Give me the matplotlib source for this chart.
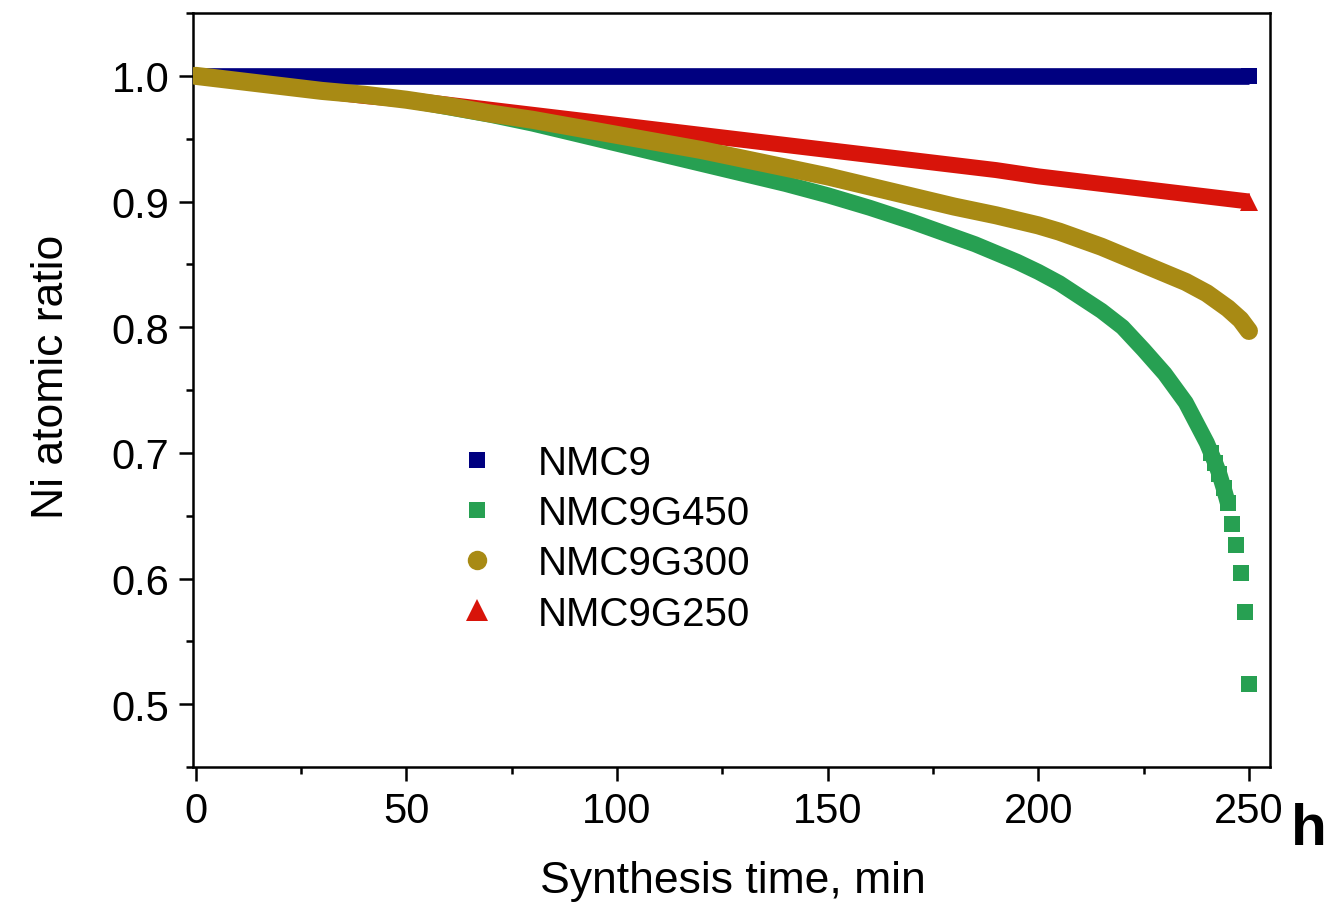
import numpy as np
import matplotlib.pyplot as plt
from matplotlib.lines import Line2D
from matplotlib.ticker import MultipleLocator

plt.rcParams['font.family'] = ['Liberation Sans', 'DejaVu Sans']

# values (synthesis time in min, Ni atomic ratio)
t_nmc9 = [0, 250]
ni_nmc9 = [1.0, 1.0]

t_g250 = [0, 10, 20, 30, 40, 50, 60, 70, 80, 90, 100, 110, 120, 130, 140,
          150, 160, 170, 180, 190, 200, 210, 220, 230, 240, 250]
ni_g250 = [1.000, 0.996, 0.992, 0.988, 0.984, 0.981, 0.977, 0.973, 0.969,
           0.965, 0.961, 0.957, 0.953, 0.949, 0.945, 0.941, 0.937, 0.933,
           0.929, 0.925, 0.920, 0.916, 0.912, 0.908, 0.904, 0.900]

t_g300 = [0, 10, 20, 30, 40, 50, 60, 70, 80, 90, 100, 110, 120, 130, 140,
          150, 160, 170, 180, 190, 200, 205, 210, 215, 220, 225, 230, 235,
          240, 245, 248, 250]
ni_g300 = [1.000, 0.996, 0.992, 0.988, 0.985, 0.981, 0.976, 0.970, 0.965,
           0.959, 0.953, 0.947, 0.941, 0.934, 0.927, 0.920, 0.912, 0.904,
           0.896, 0.889, 0.881, 0.876, 0.870, 0.864, 0.857, 0.850, 0.843,
           0.836, 0.827, 0.815, 0.806, 0.797]

t_g450 = [0, 10, 20, 30, 40, 50, 60, 70, 80, 90, 100, 110, 120, 130, 140,
          150, 160, 170, 180, 185, 190, 195, 200, 205, 210, 215, 220, 225,
          230, 235, 240, 241, 242, 243, 244, 245, 246, 247, 248, 249, 250]
ni_g450 = [1.000, 0.996, 0.992, 0.988, 0.985, 0.981, 0.975, 0.969, 0.962,
           0.954, 0.946, 0.938, 0.930, 0.922, 0.914, 0.905, 0.895, 0.884,
           0.872, 0.866, 0.859, 0.852, 0.844, 0.835, 0.824, 0.813, 0.800,
           0.782, 0.763, 0.740, 0.708, 0.700, 0.692, 0.683, 0.672, 0.660,
           0.643, 0.627, 0.604, 0.573, 0.516]

labels = ['NMC9', 'NMC9G450', 'NMC9G300', 'NMC9G250']
c_nmc9 = '#000080'
c_g450 = '#27A052'
c_g300 = '#A88A14'
c_g250 = '#D8140A'

fig = plt.figure(figsize=(13.4, 9.04), dpi=100)
ax = fig.add_axes([193 / 1340, 1 - 768 / 904, 1077 / 1340, 754 / 904])

# the original markers sit so close that they merge into thick bands
ax.plot(t_nmc9, ni_nmc9, color=c_nmc9, lw=12, solid_capstyle='butt',
        marker='s', ms=12, mew=0, markevery=[-1], zorder=2)
ax.plot(t_g250, ni_g250, color=c_g250, lw=11.5, solid_capstyle='butt',
        solid_joinstyle='round', marker='^', ms=13.5, mew=0,
        markevery=[-1], zorder=3)

tg = np.array(t_g450)
ng = np.array(ni_g450)
body = tg <= 245
ax.plot(tg[body], ng[body], color=c_g450, lw=11.5, solid_capstyle='butt',
        solid_joinstyle='round', zorder=4)
ax.plot(tg[tg >= 241], ng[tg >= 241], ls='none', color=c_g450, marker='s',
        ms=12.2, mew=0, zorder=4)

ax.plot(t_g300, ni_g300, color=c_g300, lw=13, solid_capstyle='round',
        solid_joinstyle='round', zorder=5)

handles = [
    Line2D([], [], ls='none', marker='s', ms=12, mew=0, color=c_nmc9),
    Line2D([], [], ls='none', marker='s', ms=12, mew=0, color=c_g450),
    Line2D([], [], ls='none', marker='o', ms=14, mew=0, color=c_g300),
    Line2D([], [], ls='none', marker='^', ms=15.5, mew=0, color=c_g250),
]
ax.legend(handles, labels, loc='upper left', bbox_to_anchor=(0.245, 0.428),
          frameon=False, fontsize=29, handlelength=1.0, handletextpad=1.0,
          labelspacing=0.3, borderpad=0, borderaxespad=0)

ax.set_xlim(-0.6, 255)
ax.set_ylim(0.45, 1.05)
ax.xaxis.set_major_locator(MultipleLocator(50))
ax.xaxis.set_minor_locator(MultipleLocator(25))
ax.yaxis.set_major_locator(MultipleLocator(0.1))
ax.yaxis.set_minor_locator(MultipleLocator(0.05))
ax.yaxis.set_major_formatter(plt.FormatStrFormatter('%.1f'))

ax.tick_params(which='both', direction='out', top=False, right=False,
               width=1.8, labelsize=30)
ax.tick_params(which='major', length=10, pad=7)
ax.tick_params(which='minor', length=5)
for s in ax.spines.values():
    s.set_linewidth(1.8)

ax.set_xlabel('Synthesis time, min', fontsize=32)
ax.set_ylabel('Ni atomic ratio', fontsize=32)
ax.xaxis.set_label_coords(0.501, -0.124)
ax.yaxis.set_label_coords(-0.112, 0.519)

fig.text(1291 / 1340, 1 - 845 / 904, 'h', fontsize=42, fontweight='bold',
         ha='left', va='baseline')

fig.savefig('out.png', dpi=100)
